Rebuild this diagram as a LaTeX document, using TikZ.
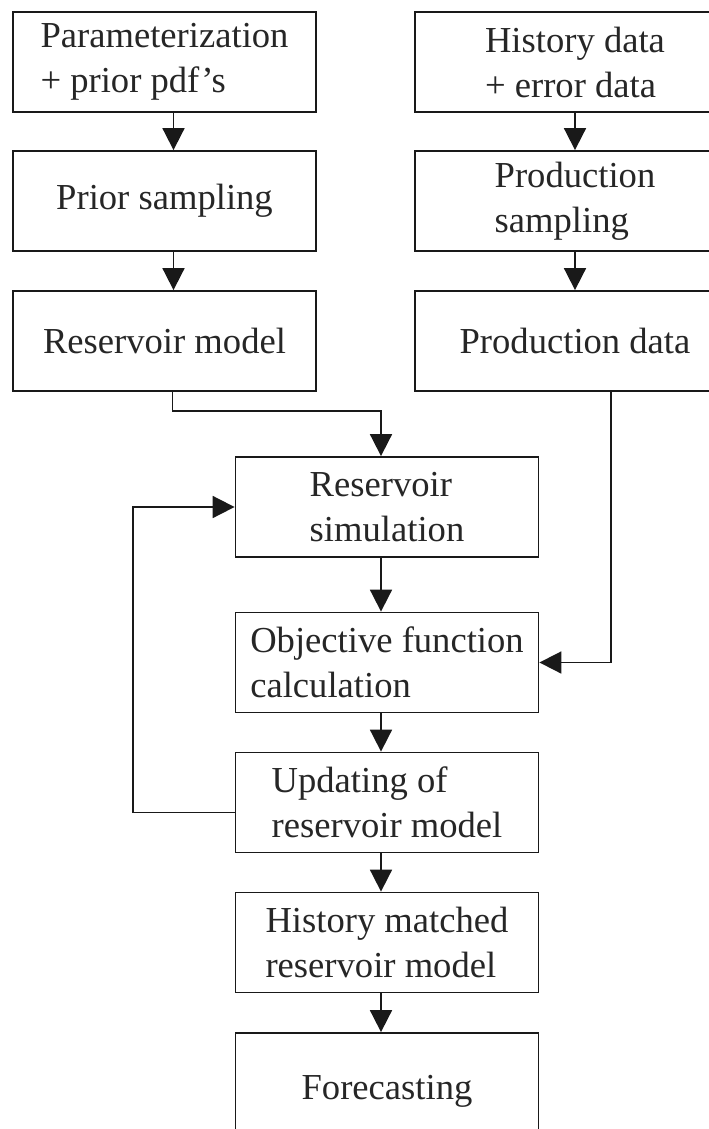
\documentclass[tikz,border=0pt]{standalone}
\usepackage{fontspec}
\setmainfont{Liberation Serif}
\usetikzlibrary{arrows.meta}

\begin{document}
\begin{tikzpicture}[x=0.5pt, y=-0.5pt,
        box/.style={draw=black!90, line width=0.9pt, minimum width=151.5pt, minimum height=50pt,
            inner sep=2pt, align=left, text=black!85, font=\fontsize{18.3}{22.5}\selectfont},
        wbox/.style={box, minimum width=160pt},
        arr/.style={draw=black!90, line width=0.9pt, -{Triangle[length=11pt,width=11pt]}}]
        \useasboundingbox (0,0) rectangle (708,1129);

        % model side
        \node[box] (par) at (164.5,62) {Parameterization\\+ prior pdf’s};
        \node[box] (pri) at (164.5,201) {Prior sampling};
        \node[box] (rmod) at (164.5,341) {Reservoir model};

        % data side
        \node[wbox] (hist) at (575,62) {History data\\+ error data};
        \node[wbox] (psamp) at (575,201) {Production\\sampling};
        \node[wbox] (pdata) at (575,341) {Production data};

        % matching loop
        \node[box] (sim) at (387,507) {Reservoir\\simulation};
        \node[box] (obj) at (387,662.5) {Objective function\\calculation};
        \node[box] (upd) at (387,802.5) {Updating of\\reservoir model};
        \node[box] (hm) at (387,942.5) {History matched\\reservoir model};
        \node[box, minimum height=58pt] (fc) at (387,1091) {Forecasting};

        \draw[arr] ([xshift=4.5pt]par.south) -- ([xshift=4.5pt]pri.north);
        \draw[arr] ([xshift=4.5pt]pri.south) -- ([xshift=4.5pt]rmod.north);
        \draw[arr] (hist) -- (psamp);
        \draw[arr] (psamp) -- (pdata);
        \draw[arr] ([xshift=4pt]rmod.south) -- ++(0,19) -| ([xshift=-3pt]sim.north);
        \draw[arr] ([xshift=18pt]pdata.south) |- (obj.east);
        \draw[arr] ([xshift=-3pt]sim.south) -- ([xshift=-3pt]obj.north);
        \draw[arr] ([xshift=-3pt]obj.south) -- ([xshift=-3pt]upd.north);
        \draw[arr] ([xshift=-3pt]upd.south) -- ([xshift=-3pt]hm.north);
        \draw[arr] ([xshift=-3pt]hm.south) -- ([xshift=-3pt]fc.north);
        % feedback to the simulator
        \draw[arr] ([yshift=-5pt]upd.west) -- ++(-102,0) |- (sim.west);
\end{tikzpicture}
\end{document}
